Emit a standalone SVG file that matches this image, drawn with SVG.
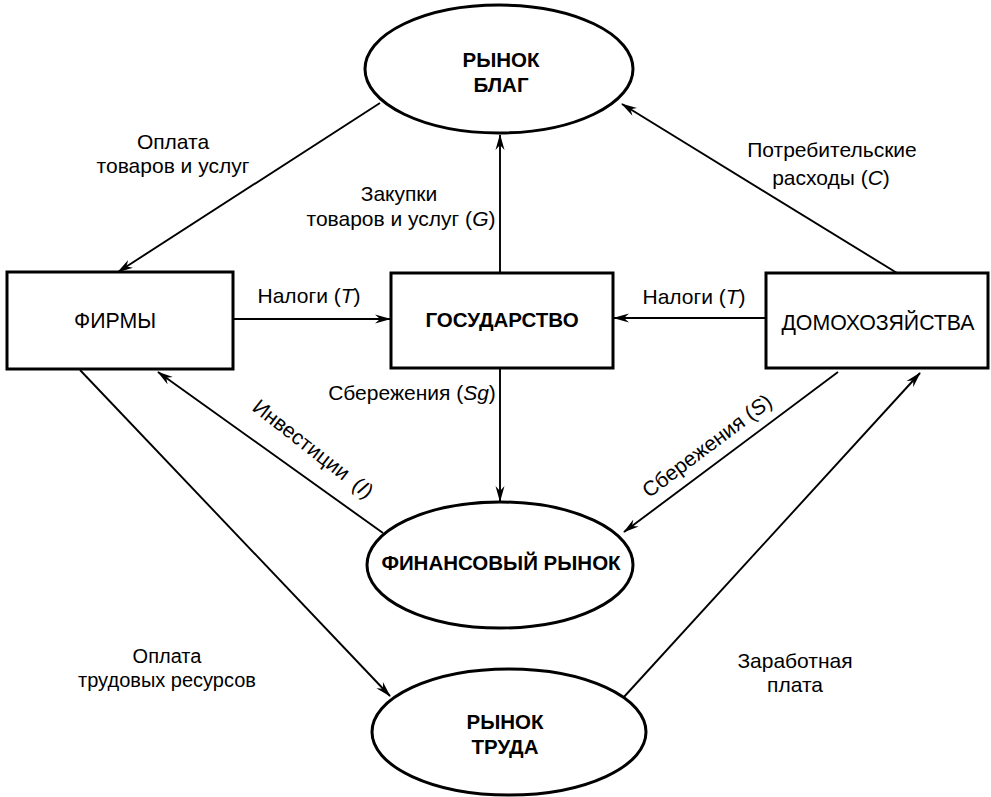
<svg xmlns="http://www.w3.org/2000/svg" width="991" height="797" viewBox="0 0 991 797">
<defs>
<marker id="ah" viewBox="0 0 16 10" refX="15" refY="5" markerWidth="16" markerHeight="10" markerUnits="userSpaceOnUse" orient="auto">
<path d="M0,0.5 L16,5 L0,9.5 L5,5 z" fill="#000"/>
</marker>
<style>
.node{fill:#fff;stroke:#000;stroke-width:3}
.conn{fill:none;stroke:#000;stroke-width:1.9;marker-end:url(#ah)}
.lab{font-family:"Liberation Sans",Arial,sans-serif;font-size:21px;fill:#000;text-anchor:middle}
.lab2{font-family:"Liberation Sans",Arial,sans-serif;font-size:20px;fill:#000;text-anchor:middle}
.nl{font-family:"Liberation Sans",Arial,sans-serif;font-size:21.3px;fill:#000;text-anchor:middle}
.nb{font-family:"Liberation Sans",Arial,sans-serif;font-size:20.5px;font-weight:bold;fill:#000;text-anchor:middle}
</style>
</defs>
<rect width="991" height="797" fill="#fff"/>
<g id="connectors">
<line class="conn" x1="380" y1="103" x2="118" y2="272"/>
<line class="conn" x1="897" y1="273" x2="622" y2="104"/>
<line class="conn" x1="500" y1="273" x2="500" y2="135"/>
<line class="conn" x1="233" y1="319" x2="390" y2="319"/>
<line class="conn" x1="766" y1="318" x2="614" y2="318"/>
<line class="conn" x1="500" y1="368" x2="500" y2="501"/>
<line class="conn" x1="383" y1="533" x2="158" y2="372"/>
<line class="conn" x1="838" y1="372" x2="624" y2="532"/>
<line class="conn" x1="80" y1="370" x2="390" y2="696"/>
<line class="conn" x1="623" y1="698" x2="920" y2="373"/>
</g>
<g id="labels">
<text class="lab" x="173" y="149">Оплата</text>
<text class="lab" x="173" y="173">товаров и услуг</text>
<text class="lab" x="832" y="157">Потребительские</text>
<text class="lab" x="831" y="185">расходы (<tspan font-style="italic">C</tspan>)</text>
<text class="lab" x="399" y="201">Закупки</text>
<text class="lab" x="401" y="226">товаров и услуг (<tspan font-style="italic">G</tspan>)</text>
<text class="lab" x="309" y="303">Налоги (<tspan font-style="italic">T</tspan>)</text>
<text class="lab" x="694" y="304">Налоги (<tspan font-style="italic">T</tspan>)</text>
<text class="lab" x="412" y="400">Сбережения (<tspan font-style="italic">Sg</tspan>)</text>
<text class="lab" transform="translate(313,449) rotate(38)" x="0" y="7">Инвестиции<tspan dx="10">(</tspan><tspan font-style="italic">I</tspan>)</text>
<text class="lab" transform="translate(707,446) rotate(-37)" x="0" y="7">Сбережения (<tspan font-style="italic">S</tspan>)</text>
<text class="lab2" x="167" y="663">Оплата</text>
<text class="lab2" x="167" y="687">трудовых ресурсов</text>
<text class="lab" x="795" y="668">Заработная</text>
<text class="lab" x="795" y="692">плата</text>
</g>
<g id="goods-market">
<ellipse class="node" cx="499" cy="69" rx="134" ry="64"/>
<text class="nb" x="501" y="67">РЫНОК</text>
<text class="nb" x="501" y="92">БЛАГ</text>
</g>
<g id="firms">
<rect class="node" x="7" y="272" width="226" height="97"/>
<text class="nl" x="115" y="328">ФИРМЫ</text>
</g>
<g id="government">
<rect class="node" x="391" y="273" width="222" height="95"/>
<text class="nb" x="502" y="327">ГОСУДАРСТВО</text>
</g>
<g id="households">
<rect class="node" x="766" y="273" width="222" height="95"/>
<text class="nl" x="878" y="330">ДОМОХОЗЯЙСТВА</text>
</g>
<g id="financial-market">
<ellipse class="node" cx="500" cy="565" rx="133" ry="63"/>
<text class="nb" x="501" y="570">ФИНАНСОВЫЙ РЫНОК</text>
</g>
<g id="labor-market">
<ellipse class="node" cx="509" cy="732" rx="137" ry="63"/>
<text class="nb" x="505" y="729">РЫНОК</text>
<text class="nb" x="505" y="754">ТРУДА</text>
</g>
</svg>
